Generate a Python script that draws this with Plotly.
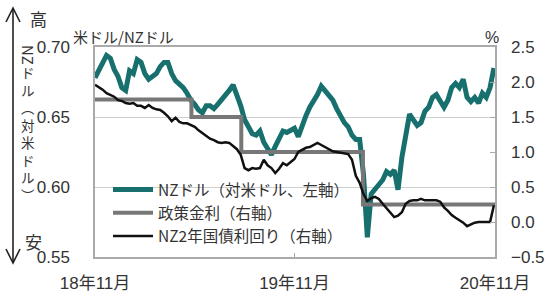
import plotly.graph_objects as go
import pandas as pd

# ---------------- data ----------------
start_date = "2018-11-13"
n_weeks = 105
week_dates = pd.date_range(start_date, periods=n_weeks, freq="7D")

nzd_usd = [
    0.678, 0.684, 0.688, 0.694, 0.692, 0.684, 0.679, 0.671, 0.669, 0.683,
    0.681, 0.691, 0.689, 0.681, 0.677, 0.679, 0.681, 0.686, 0.689, 0.689,
    0.681, 0.676, 0.674, 0.671, 0.667, 0.662, 0.659, 0.655, 0.653, 0.658,
    0.658, 0.656, 0.659, 0.662, 0.666, 0.669, 0.673, 0.666, 0.658, 0.648,
    0.642, 0.638, 0.637, 0.640, 0.632, 0.628, 0.623, 0.629, 0.634, 0.640,
    0.639, 0.641, 0.642, 0.636, 0.644, 0.651, 0.657, 0.661, 0.666, 0.672,
    0.669, 0.665, 0.662, 0.656, 0.650, 0.646, 0.643, 0.637, 0.634, 0.634,
    0.609, 0.564, 0.595, 0.598, 0.602, 0.605, 0.611, 0.609, 0.612, 0.598,
    0.621, 0.639, 0.652, 0.648, 0.644, 0.646, 0.654, 0.657, 0.664, 0.666,
    0.662, 0.657, 0.662, 0.671, 0.674, 0.671, 0.677, 0.664, 0.661, 0.664,
    0.660, 0.667, 0.664, 0.671, 0.685,
]

nz_2y_yield = [
    1.96, 1.93, 1.89, 1.84, 1.81, 1.79, 1.74, 1.73, 1.70, 1.69,
    1.70, 1.66, 1.66, 1.63, 1.67, 1.63, 1.61, 1.60, 1.56, 1.51,
    1.44, 1.49, 1.43, 1.41, 1.41, 1.39, 1.36, 1.31, 1.27, 1.23,
    1.19, 1.17, 1.14, 1.13, 1.14, 1.13, 1.09, 1.04, 0.96, 0.77,
    0.74, 0.77, 0.76, 0.77, 0.89, 0.81, 0.77, 0.70, 0.76, 0.84,
    0.81, 0.86, 0.90, 1.00, 1.03, 1.06, 1.07, 1.10, 1.13, 1.10,
    1.07, 1.04, 1.01, 1.00, 0.99, 0.99, 0.97, 0.89, 0.66, 0.56,
    0.40, 0.30, 0.34, 0.36, 0.33, 0.26, 0.20, 0.13, 0.07, 0.09,
    0.14, 0.26, 0.30, 0.31, 0.31, 0.33, 0.31, 0.31, 0.31, 0.31,
    0.29, 0.21, 0.16, 0.10, 0.06, 0.03, -0.01, -0.06, -0.03, -0.01,
    0.00, 0.00, -0.01, 0.00, 0.24,
]

policy_dates = ["2018-11-13", "2019-05-08", "2019-08-07", "2020-03-16", "2020-11-12"]
policy_rate = [1.75, 1.50, 1.00, 0.25, 0.25]

x_range = ["2018-11-13", "2020-11-12"]
x_tickvals = ["2018-11-13", "2019-11-12", "2020-11-12"]
x_ticktext = ["18年11月", "19年11月", "20年11月"]
left_tickvals = [0.55, 0.60, 0.65, 0.70]
right_tickvals = [-0.5, 0.0, 0.5, 1.0, 1.5, 2.0, 2.5]

series_names = ["NZドル（対米ドル、左軸）", "政策金利（右軸）", "NZ2年国債利回り（右軸）"]
vertical_label = ["ド", "ル", "︵", "対", "米", "ド", "ル", "︶"]

# ---------------- layout helpers ----------------
W, H = 550, 296
L, R, T, B = 95, 55, 47, 39


def px(x):
    return (x - L) / (W - L - R)


def py(y):
    return (H - B - y) / (H - T - B)


NUM_FONT = "Liberation Sans, Arial, Noto Sans CJK JP, sans-serif"
JP_FONT = "Noto Sans CJK JP, sans-serif"
TXT = "#333333"

fig = go.Figure()
fig.add_trace(go.Scatter(x=week_dates, y=nzd_usd, name=series_names[0], mode="lines",
                         line=dict(color="#17706e", width=5), yaxis="y"))
fig.add_trace(go.Scatter(x=policy_dates, y=policy_rate, name=series_names[1], mode="lines",
                         line=dict(color="#777777", width=4, shape="hv"), yaxis="y2"))
fig.add_trace(go.Scatter(x=week_dates, y=nz_2y_yield, name=series_names[2], mode="lines",
                         line=dict(color="#111111", width=2.5), yaxis="y2"))

axis_line = "#aaaaaa"
fig.update_layout(
    width=W, height=H,
    margin=dict(l=L, r=R, t=T, b=B, pad=0, autoexpand=False),
    paper_bgcolor="white", plot_bgcolor="white",
    showlegend=True,
    legend=dict(x=px(108), y=py(173), xanchor="left", yanchor="top",
                bgcolor="rgba(0,0,0,0)", font=dict(family=JP_FONT, size=15.5, color=TXT),
                itemwidth=40, tracegroupgap=0),
    xaxis=dict(type="date", range=x_range, tickvals=x_tickvals, ticktext=x_ticktext,
               showgrid=False, showline=True, linecolor=axis_line, linewidth=1.5, mirror=True,
               ticks="inside", ticklen=4, tickcolor=axis_line,
               tickfont=dict(family=NUM_FONT, size=17, color=TXT), ticklabelstandoff=10),
    yaxis=dict(range=[0.55, 0.70], tickvals=left_tickvals, tickformat=".2f",
               showgrid=True, gridcolor="#cfcfcf", gridwidth=1,
               showline=True, linecolor=axis_line, linewidth=1.5, mirror=True,
               ticks="", tickfont=dict(family=NUM_FONT, size=17, color=TXT),
               ticklabelstandoff=20, zeroline=False),
    yaxis2=dict(range=[-0.5, 2.5], tickvals=right_tickvals, tickformat=".1f",
                overlaying="y", side="right", showgrid=False, zeroline=False,
                ticks="inside", ticklen=5, tickcolor=axis_line,
                tickfont=dict(family=NUM_FONT, size=17, color=TXT), ticklabelstandoff=15),
)

ann = []
ann.append(dict(text="米ドル/NZドル", x=px(71), y=py(37), xanchor="left", yanchor="middle",
                font=dict(family=JP_FONT, size=15, color=TXT)))
ann.append(dict(text="%", x=px(492), y=py(38), xanchor="center", yanchor="middle",
                font=dict(family=NUM_FONT, size=16, color=TXT)))
ann.append(dict(text="高", x=px(38), y=py(18), xanchor="center", yanchor="middle",
                font=dict(family=JP_FONT, size=17, color=TXT)))
ann.append(dict(text="安", x=px(33), y=py(241), xanchor="center", yanchor="middle",
                font=dict(family=JP_FONT, size=17, color=TXT)))
ann.append(dict(text="NZ", x=px(28), y=py(55), xanchor="center", yanchor="middle", textangle=90,
                font=dict(family=JP_FONT, size=15, color=TXT)))
ann.append(dict(text="<br>".join(vertical_label), x=px(28), y=py(133), xanchor="center",
                yanchor="middle", font=dict(family=JP_FONT, size=13.5, color=TXT)))
for a in ann:
    a.update(xref="paper", yref="paper", showarrow=False)
fig.update_layout(annotations=ann)

arrow_x, top_tip, bot_tip, arm_dx, arm_dy = 13, 8, 263, 7, 14
shapes = [
    dict(type="line", x0=px(arrow_x), x1=px(arrow_x), y0=py(top_tip + 1), y1=py(bot_tip - 1)),
    dict(type="path", path=f"M {px(arrow_x - arm_dx)},{py(top_tip + arm_dy)} L {px(arrow_x)},{py(top_tip)} L {px(arrow_x + arm_dx)},{py(top_tip + arm_dy)}"),
    dict(type="path", path=f"M {px(arrow_x - arm_dx)},{py(bot_tip - arm_dy)} L {px(arrow_x)},{py(bot_tip)} L {px(arrow_x + arm_dx)},{py(bot_tip - arm_dy)}"),
]
for s in shapes:
    s.update(xref="paper", yref="paper", line=dict(color="#222222", width=1.6))
fig.update_layout(shapes=shapes)

fig.write_html("out.html")
